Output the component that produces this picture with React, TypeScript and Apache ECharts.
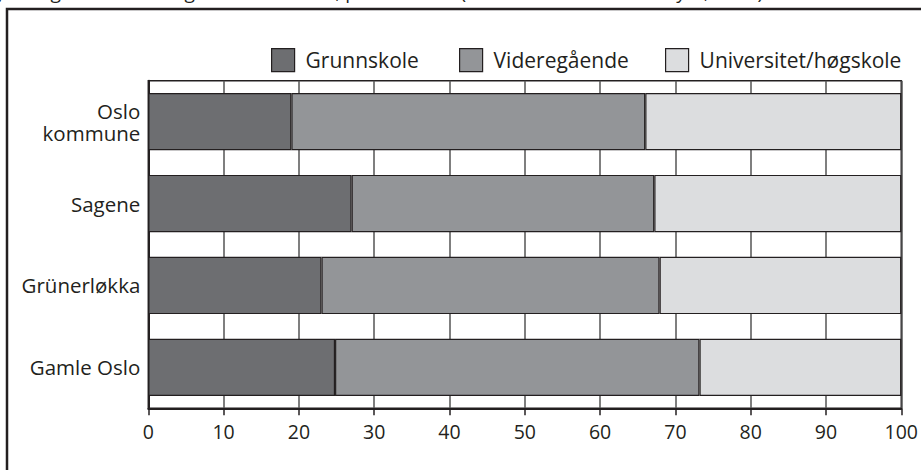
import React, { useEffect, useRef } from "react";
import * as echarts from "echarts";

const categories = ["Oslo\nkommune", "Sagene", "Grünerløkka", "Gamle Oslo"];
const seriesNames = ["Grunnskole", "Videregående", "Universitet/høgskole"];
const grunnskole = [19, 27, 23, 24.8];
const videregaende = [47, 40.2, 44.9, 48.4];
const universitet = [34, 32.8, 32.1, 26.8];
const xTicks = [0, 10, 20, 30, 40, 50, 60, 70, 80, 90, 100];
const titleText = "Sagene og Gamle Oslo og Oslo kommune, per 1.1.1996 (Kilde: Statistisk sentralbyrå, 1996)";

const colors = ["#6d6e71", "#939598", "#dcdddf"];
const dark = "#231f20";
const font = "'Open Sans', 'Noto Sans', sans-serif";

export default function App() {
  const ref = useRef<HTMLDivElement>(null);
  useEffect(() => {
    if (!ref.current) return;
    const chart = echarts.init(ref.current, undefined, { renderer: "svg" });
    const values = [grunnskole, videregaende, universitet];
    const legendLefts = [271, 459, 665];
    chart.setOption({
      animation: false,
      backgroundColor: "#ffffff",
      textStyle: { fontFamily: font },
      graphic: [
        {
          type: "rect",
          shape: { x: 7, y: 9, width: 1200, height: 1000 },
          style: { fill: "none", stroke: dark, lineWidth: 2.5 },
          silent: true,
        },
        {
          type: "text",
          x: 763,
          y: 1,
          style: {
            text: titleText,
            fill: dark,
            font: `19px ${font}`,
            textAlign: "right",
            textVerticalAlign: "bottom",
          },
          silent: true,
        },
      ],
      legend: seriesNames.map((n, i) => ({
        data: [n],
        left: legendLefts[i],
        top: 48,
        padding: 0,
        icon: "rect",
        itemWidth: 23,
        itemHeight: 23,
        itemGap: 10,
        itemStyle: { borderColor: dark, borderWidth: 1.2 },
        textStyle: { fontSize: 21, color: dark, fontFamily: font, padding: [0, 0, 0, 6] },
        selectedMode: false,
      })),
      grid: {
        left: 148.3,
        right: 921 - 903.3,
        top: 80.7,
        bottom: 470 - 408.3,
        show: true,
        borderColor: dark,
        borderWidth: 1.5,
        backgroundColor: "transparent",
      },
      xAxis: {
        type: "value",
        min: 0,
        max: 100,
        interval: 10,
        axisLine: { show: true, lineStyle: { color: dark, width: 2 } },
        axisTick: { show: true, length: 7, lineStyle: { color: dark, width: 1.5 } },
        splitLine: { show: true, lineStyle: { color: "#555555", width: 1.5 } },
        axisLabel: {
          color: dark,
          fontSize: 19.5,
          margin: 13,
          formatter: (v: number) => (xTicks.includes(v) ? String(v) : ""),
        },
      },
      yAxis: {
        type: "category",
        data: categories,
        inverse: true,
        axisLine: { show: true, lineStyle: { color: dark, width: 2 } },
        axisTick: { show: false },
        splitLine: { show: false },
        axisLabel: {
          color: dark,
          fontSize: 20.5,
          lineHeight: 22,
          margin: 8,
          align: "right",
        },
      },
      series: seriesNames.map((n, i) => ({
        name: n,
        type: "bar",
        stack: "total",
        data: values[i],
        barCategoryGap: "30%",
        itemStyle: { color: colors[i], borderColor: dark, borderWidth: 1.2 },
        emphasis: { disabled: true },
      })),
    });
    return () => chart.dispose();
  }, []);
  return (
    <div
      ref={ref}
      style={{ position: "fixed", left: 0, top: 0, width: 921, height: 470 }}
    />
  );
}
